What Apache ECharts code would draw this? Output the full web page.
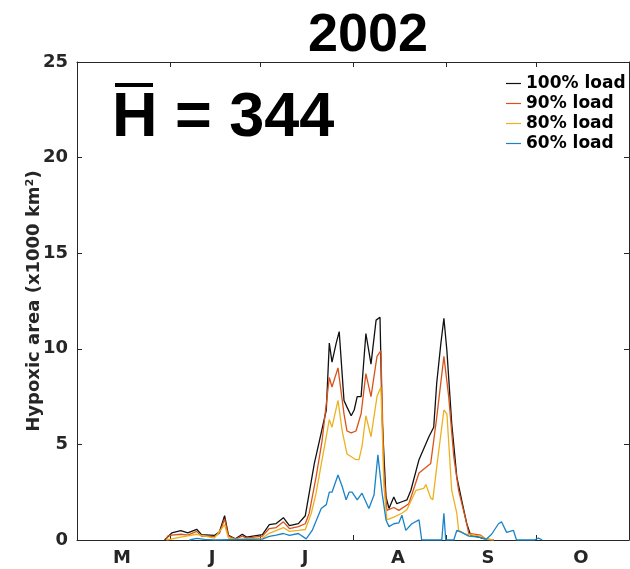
<!DOCTYPE html>
<html>
<head>
<meta charset="utf-8">
<script src="https://cdn.jsdelivr.net/npm/echarts@6/dist/echarts.min.js"></script>
<style>
  html, body { margin: 0; padding: 0; background: #fff; }
  #chart { width: 630px; height: 569px; }
</style>
</head>
<body>
<div id="chart"></div>
<script>
// x axis is day of year (2002), month boundaries and mid-month labels
const monthTicks = [121, 152, 182, 213, 244, 274, 305];
const monthLabelDays = [136, 166, 197, 228, 258, 289];
const monthLetters = ['M', 'J', 'J', 'A', 'S', 'O'];

const seriesNames = ['100% load', '90% load', '80% load', '60% load'];

// [day, hypoxic area (x1000 km2)]
const load100 = [
  [150.2, 0], [152.6, 0.37], [155.6, 0.49], [157.9, 0.37], [160.9, 0.56], [162.5, 0.28],
  [166.8, 0.24], [168.5, 0.43], [170.2, 1.27], [171.5, 0.24], [173.8, 0.06], [176.1, 0.3],
  [177.5, 0.15], [182.8, 0.28], [185.1, 0.8], [187.4, 0.86], [189.8, 1.17], [191.8, 0.75],
  [194.8, 0.86], [197.1, 1.27], [198.4, 2.45], [200.1, 4.0], [202.4, 5.6], [204.1, 6.8],
  [205.1, 10.3], [206.0, 9.3], [207.4, 10.3], [208.4, 10.9], [210.0, 7.3], [211.0, 6.95],
  [212.4, 6.5], [213.4, 6.8], [214.4, 7.5], [215.7, 7.5], [217.3, 10.8], [219.0, 9.2],
  [220.7, 11.5], [222.0, 11.65], [222.7, 6.4], [224.0, 2.25], [225.0, 1.65], [226.6, 2.25],
  [227.6, 1.9], [229.3, 2.0], [231.0, 2.1], [232.3, 2.6], [235.0, 4.2], [238.3, 5.4],
  [239.9, 5.9], [240.9, 8.2], [242.3, 10.3], [243.3, 11.6], [244.3, 9.9], [245.9, 6.1],
  [247.6, 3.3], [249.2, 2.1], [250.9, 0.87], [252.2, 0.25], [254.9, 0.15], [257.2, 0.05],
  [259.9, 0]
];
const load90 = [
  [150.6, 0], [151.2, 0.2], [152.6, 0.25], [155.6, 0.3], [157.9, 0.25], [160.9, 0.45],
  [162.5, 0.2], [166.8, 0.18], [168.5, 0.35], [170.2, 1.1], [171.5, 0.2], [173.8, 0.05],
  [176.1, 0.2], [177.5, 0.1], [182.8, 0.2], [185.1, 0.6], [187.4, 0.65], [189.8, 0.95],
  [191.8, 0.6], [194.8, 0.7], [197.1, 0.85], [198.4, 1.4], [200.7, 3.3], [202.7, 5.2],
  [205.1, 8.5], [206.0, 8.0], [208.0, 9.0], [210.0, 6.6], [211.0, 5.7], [212.4, 5.6],
  [214.0, 5.7], [215.7, 6.6], [217.3, 8.7], [219.0, 7.5], [221.0, 9.6], [222.3, 9.9],
  [223.3, 3.5], [224.3, 1.55], [226.6, 1.7], [228.3, 1.55], [231.6, 1.9], [235.0, 3.5],
  [238.9, 4.0], [240.9, 6.4], [243.3, 9.6], [244.9, 7.5], [246.6, 4.35], [248.2, 2.6],
  [250.6, 1.05], [251.6, 0.35], [255.6, 0.25], [257.2, 0.05], [259.9, 0]
];
const load80 = [
  [150.8, 0], [151.2, 0.1], [155.6, 0.15], [160.9, 0.3], [166.8, 0.1], [170.2, 0.8],
  [171.5, 0.1], [173.8, 0.03], [182.8, 0.1], [185.1, 0.35], [189.8, 0.65], [191.8, 0.45],
  [194.8, 0.5], [197.1, 0.55], [199.1, 1.4], [200.7, 2.45], [202.7, 4.2], [205.1, 6.3],
  [206.0, 5.9], [208.0, 7.3], [209.4, 5.7], [211.0, 4.5], [214.0, 4.2], [215.0, 4.2],
  [216.0, 4.9], [217.3, 6.5], [219.0, 5.4], [221.0, 7.5], [222.3, 8.0], [223.3, 2.8],
  [224.3, 1.05], [226.6, 1.2], [229.3, 1.4], [231.0, 1.6], [234.0, 2.6], [236.6, 2.7],
  [237.3, 2.9], [238.9, 2.2], [239.6, 2.1], [240.9, 3.8], [243.3, 6.8], [244.3, 6.6],
  [245.9, 2.6], [247.6, 1.4], [248.2, 0.5], [250.6, 0.3], [255.6, 0.2], [257.2, 0.05],
  [259.9, 0]
];
const load60 = [
  [158.5, 0], [160.9, 0.08], [163.5, 0.03], [166.8, 0], [182.8, 0.05], [185.1, 0.19],
  [187.4, 0.25], [189.8, 0.34], [191.8, 0.24], [194.8, 0.34], [197.4, 0.06], [199.4, 0.5],
  [202.4, 1.65], [204.1, 1.85], [205.1, 2.5], [206.0, 2.5], [208.0, 3.4], [209.4, 2.8],
  [210.7, 2.1], [211.7, 2.5], [212.7, 2.5], [214.4, 2.1], [216.0, 2.45], [218.3, 1.65],
  [220.0, 2.35], [221.3, 4.45], [222.7, 2.45], [224.0, 1.05], [225.0, 0.7], [226.6, 0.85],
  [228.3, 0.9], [229.3, 1.3], [230.6, 0.5], [232.6, 0.85], [235.0, 1.05], [235.9, 0],
  [242.6, 0], [243.3, 1.4], [243.9, 0], [246.6, 0], [247.6, 0.5], [249.2, 0.4],
  [251.6, 0.2], [254.9, 0.15], [257.5, 0.05], [259.2, 0.3], [261.5, 0.85], [262.5, 0.95],
  [264.2, 0.4], [266.5, 0.5], [267.5, 0], [273.5, 0], [274.8, 0.1], [276.1, 0]
];

const seriesData = [load100, load90, load80, load60];
const seriesColors = ['#111111', '#D95319', '#EDB120', '#1A82C8'];

const axisColor = '#262626';
const chart = echarts.init(document.getElementById('chart'));

const tickCommon = { show: true, inside: true, length: 5, lineStyle: { color: axisColor } };

chart.setOption({
  animation: false,
  grid: { left: 77, right: 1, top: 62, bottom: 29 },
  legend: {
    orient: 'vertical',
    left: 501,
    top: 70,
    icon: 'rect',
    itemWidth: 15,
    itemHeight: 1.2,
    itemGap: 3,
    data: seriesNames,
    textStyle: { fontFamily: 'DejaVu Sans', fontWeight: 'bold', fontSize: 17, color: '#000' }
  },
  xAxis: [{
    type: 'value',
    min: 121,
    max: 305,
    axisLine: { show: true, onZero: false, lineStyle: { color: axisColor } },
    axisTick: Object.assign({ customValues: monthTicks }, tickCommon),
    splitLine: { show: false },
    axisLabel: {
      customValues: monthLabelDays,
      formatter: v => monthLetters[monthLabelDays.indexOf(v)] || '',
      margin: 9,
      fontFamily: 'DejaVu Sans', fontWeight: 'bold', fontSize: 18, color: axisColor
    }
  }, {
    type: 'value',
    position: 'top',
    min: 121,
    max: 305,
    axisLine: { show: true, onZero: false, lineStyle: { color: axisColor } },
    axisTick: Object.assign({ customValues: monthTicks }, tickCommon),
    splitLine: { show: false },
    axisLabel: { show: false }
  }],
  yAxis: [{
    type: 'value',
    min: 0,
    max: 25,
    interval: 5,
    name: 'Hypoxic area (x1000 km²)',
    nameLocation: 'middle',
    nameGap: 34,
    nameMoveOverlap: false,
    nameTextStyle: { fontFamily: 'DejaVu Sans', fontWeight: 'bold', fontSize: 18, color: axisColor },
    axisLine: { show: true, lineStyle: { color: axisColor } },
    axisTick: tickCommon,
    splitLine: { show: false },
    axisLabel: { margin: 9, fontFamily: 'DejaVu Sans', fontWeight: 'bold', fontSize: 18, color: axisColor }
  }, {
    type: 'value',
    position: 'right',
    min: 0,
    max: 25,
    interval: 5,
    axisLine: { show: true, lineStyle: { color: axisColor } },
    axisTick: tickCommon,
    splitLine: { show: false },
    axisLabel: { show: false }
  }],
  graphic: [
    {
      type: 'text', x: 368, y: 36,
      style: { text: '2002', align: 'center', verticalAlign: 'middle',
        fontFamily: 'Liberation Sans', fontWeight: 'bold', fontSize: 54, fill: '#000' }
    },
    {
      type: 'text', x: 112, y: 119,
      style: { text: 'H = 344', align: 'left', verticalAlign: 'middle',
        fontFamily: 'Liberation Sans', fontWeight: 'bold', fontSize: 63, fill: '#000' }
    },
    { type: 'rect', shape: { x: 115, y: 83, width: 38, height: 4 }, style: { fill: '#000' } }
  ],
  series: seriesNames.map((name, i) => ({
    name: name,
    type: 'line',
    data: seriesData[i],
    showSymbol: false,
    symbol: 'none',
    color: seriesColors[i],
    lineStyle: { width: 1.3, color: seriesColors[i] },
    z: 2 + i
  }))
});
</script>
</body>
</html>
